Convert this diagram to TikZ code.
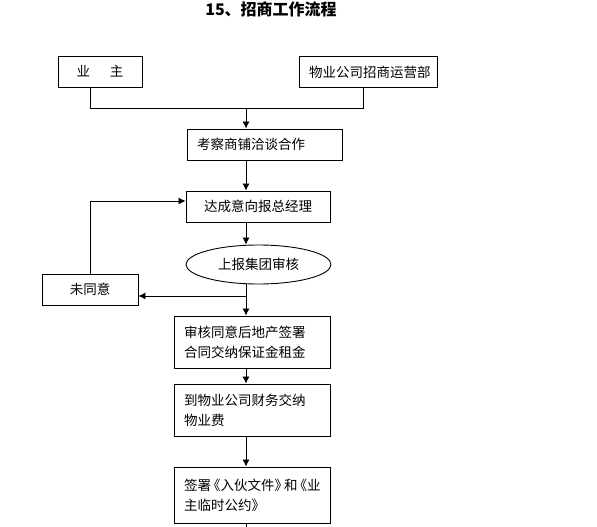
\documentclass[tikz,border=0pt]{standalone}
\usepackage{fontspec}
\newfontfamily\cjk{Noto Sans CJK SC}
\usetikzlibrary{positioning,arrows.meta,shapes.geometric}
\newcommand\boxfont{\cjk\fontsize{13.5}{20}\selectfont}
\tikzset{
  box/.style={draw=black, line width=0.9pt, font=\boxfont,
    inner xsep=10pt, inner ysep=0pt, align=left, minimum height=31pt},
  tallbox/.style={box, text width=136pt, minimum height=52pt},
  oval/.style={ellipse, draw=black, line width=0.9pt, font=\boxfont,
    minimum width=145pt, minimum height=39pt, inner sep=0pt},
  line/.style={draw=black, line width=0.8pt},
  arr/.style={line, -{Latex[length=7pt,width=7pt]}},
  titletext/.style={font=\cjk\bfseries\fontsize{16}{18}\selectfont}
}

\begin{document}
\begin{tikzpicture}[x=1pt,y=-1pt]
  \useasboundingbox (0,0) rectangle (597,527);
  \node[titletext] (title) at (271,9) {15、招商工作流程};

  \node[box, text width=64pt, align=center] (yezhu) at (100,71.5) {业\hspace{20pt}主};
  \node[box, text width=118pt] (zhaoshang) at (368,72) {物业公司招商运营部};
  \node[box, text width=135pt] (kaocha) at (264.5,144.5) {考察商铺洽谈合作};
  \node[box, text width=124pt, align=center] (dacheng) at (258,206.5) {达成意向报总经理};
  \node[oval] (shangbao) at (258.5,264.5) {上报集团审核};
  \node[box, text width=76pt, align=center] (weitongyi) at (90,289.5) {未同意};
  \node[tallbox] (shenhe) at (252,342) {审核同意后地产签署\\合同交纳保证金租金};
  \node[tallbox] (caiwu) at (252,410) {到物业公司财务交纳\\物业费};
  \node[tallbox, minimum height=56pt] (qianshu) at (252,495)
    {签署\kern-4pt《入伙文件》\kern-4pt和\kern-4pt《业\\主临时公约》};

  % connectors
  \coordinate (spine) at (246,0);
  \coordinate (yl) at (90,108);
  \coordinate (yr) at (363,108);
  \coordinate (merge) at (246,108);
  \coordinate (split) at (246,296);
  \coordinate (back) at (90,201);
  \coordinate (bottom) at (246,527);

  \draw[line] (yezhu.south -| yl) -- (yl) -- (yr) -- (zhaoshang.south -| yr);
  \draw[arr] (merge) -- (kaocha.north -| merge);
  \draw[arr] (kaocha.south -| spine) -- (dacheng.north -| spine);
  \draw[arr] (dacheng.south -| spine) -- (shangbao.north -| spine);
  \draw[line] (shangbao.south -| spine) -- (split);
  \draw[arr] (split) -- (weitongyi.east |- split);
  \draw[arr] (split) -- (shenhe.north -| spine);
  \draw[arr] (weitongyi.north -| back) -- (back) -- (dacheng.west |- back);
  \draw[arr] (shenhe.south -| spine) -- (caiwu.north -| spine);
  \draw[arr] (caiwu.south -| spine) -- (qianshu.north -| spine);
  \draw[line] (qianshu.south -| spine) -- (bottom);
\end{tikzpicture}
\end{document}
